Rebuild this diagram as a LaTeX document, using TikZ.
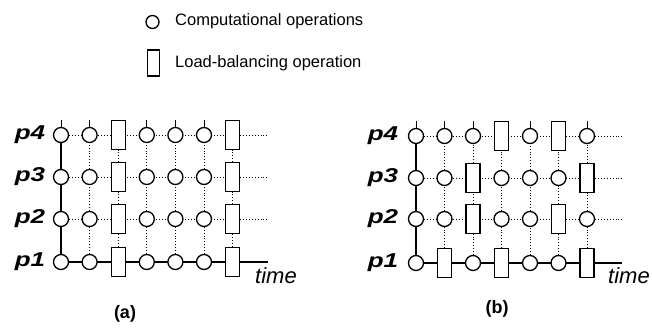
\documentclass[tikz,border=0pt]{standalone}
\usepackage{fontspec}
\setmainfont{Liberation Sans}
\usetikzlibrary{backgrounds}

\begin{document}
\begin{tikzpicture}[x=1pt,y=-1pt,
  opc/.style={draw,fill=white,circle,line width=1.3pt,minimum size=15pt,inner sep=0pt},
  opb/.style={draw,fill=white,rectangle,line width=1.3pt,minimum width=14pt,minimum height=29pt,inner sep=0pt},
  solidline/.style={line width=1.2pt},
  dotline/.style={line width=0.9pt,dotted},
  stubline/.style={line width=0.9pt},
  plabel/.style={font=\fontsize{20}{20}\selectfont\bfseries\itshape},
  tlabel/.style={anchor=base west,inner sep=0pt,font=\fontsize{22}{22}\selectfont\itshape},
  caption/.style={font=\fontsize{18}{18}\selectfont\bfseries},
  legtext/.style={anchor=base west,inner sep=0pt,font=\fontsize{16.5}{18}\selectfont}]
\useasboundingbox (0,0) rectangle (652,328);

% legend
\node[opc,minimum size=13pt] (leg-c) at (152.5,22) {};
\node[legtext] (leg-ct) at (175,26) {Computational operations};
\node[opb,minimum width=12pt,minimum height=26pt] (leg-b) at (153.5,63) {};
\node[legtext] (leg-bt) at (175,68) {Load-balancing operation};

% panel (a)
\foreach \r/\y/\pat in {1/262/{c,c,b,c,c,c,b},2/219/{c,c,b,c,c,c,b},3/177/{c,c,b,c,c,c,b},4/135/{c,c,b,c,c,c,b}}{
  \node[plabel] (a-p\r) at (30,\y) {\scalebox{1.3}[1]{p\r}};
  \foreach \k [count=\i] in \pat
    \node[op\k] (a-\r-\i) at ({61+(\i-1)*28.6},\y) {};
  \coordinate (a-\r-end) at (268,\y);
}
\begin{scope}[on background layer]
\draw[solidline] (a-1-1) \foreach \i in {2,...,7}{-- (a-1-\i)} -- (a-1-end);
\foreach \r in {2,3,4}
  \draw[dotline] (a-\r-1) \foreach \i in {2,...,7}{-- (a-\r-\i)} -- (a-\r-end);
\draw[solidline] (a-1-1) -- (a-2-1) -- (a-3-1) -- (a-4-1);
\foreach \i in {2,...,7}
  \draw[dotline] (a-1-\i) -- (a-2-\i) -- (a-3-\i) -- (a-4-\i);
\foreach \i in {1,...,7}{
  \coordinate (a-top-\i) at ({61+(\i-1)*28.6},120);
  \draw[stubline] (a-4-\i) -- (a-top-\i);
}
\end{scope}
\node[tlabel] (a-time) at (255,283) {time};
\node[caption] (a-cap) at (125,314) {(a)};

% panel (b)
\foreach \r/\y/\pat in {1/263/{c,b,c,b,c,c,b},2/219/{c,c,b,c,c,b,c},3/178/{c,c,b,c,c,c,b},4/136/{c,c,c,b,c,b,c}}{
  \node[plabel] (b-p\r) at (383,\y) {\scalebox{1.3}[1]{p\r}};
  \foreach \k [count=\i] in \pat
    \node[op\k] (b-\r-\i) at ({416+(\i-1)*28.5},\y) {};
  \coordinate (b-\r-end) at (622,\y);
}
\begin{scope}[on background layer]
\draw[solidline] (b-1-1) \foreach \i in {2,...,7}{-- (b-1-\i)} -- (b-1-end);
\foreach \r in {2,3,4}
  \draw[dotline] (b-\r-1) \foreach \i in {2,...,7}{-- (b-\r-\i)} -- (b-\r-end);
\draw[solidline] (b-1-1) -- (b-2-1) -- (b-3-1) -- (b-4-1);
\foreach \i in {2,...,7}
  \draw[dotline] (b-1-\i) -- (b-2-\i) -- (b-3-\i) -- (b-4-\i);
\foreach \i in {1,...,7}{
  \coordinate (b-top-\i) at ({416+(\i-1)*28.5},121);
  \draw[stubline] (b-4-\i) -- (b-top-\i);
}
\end{scope}
\node[tlabel] (b-time) at (608,283) {time};
\node[caption] (b-cap) at (497,309) {(b)};

\end{tikzpicture}
\end{document}
